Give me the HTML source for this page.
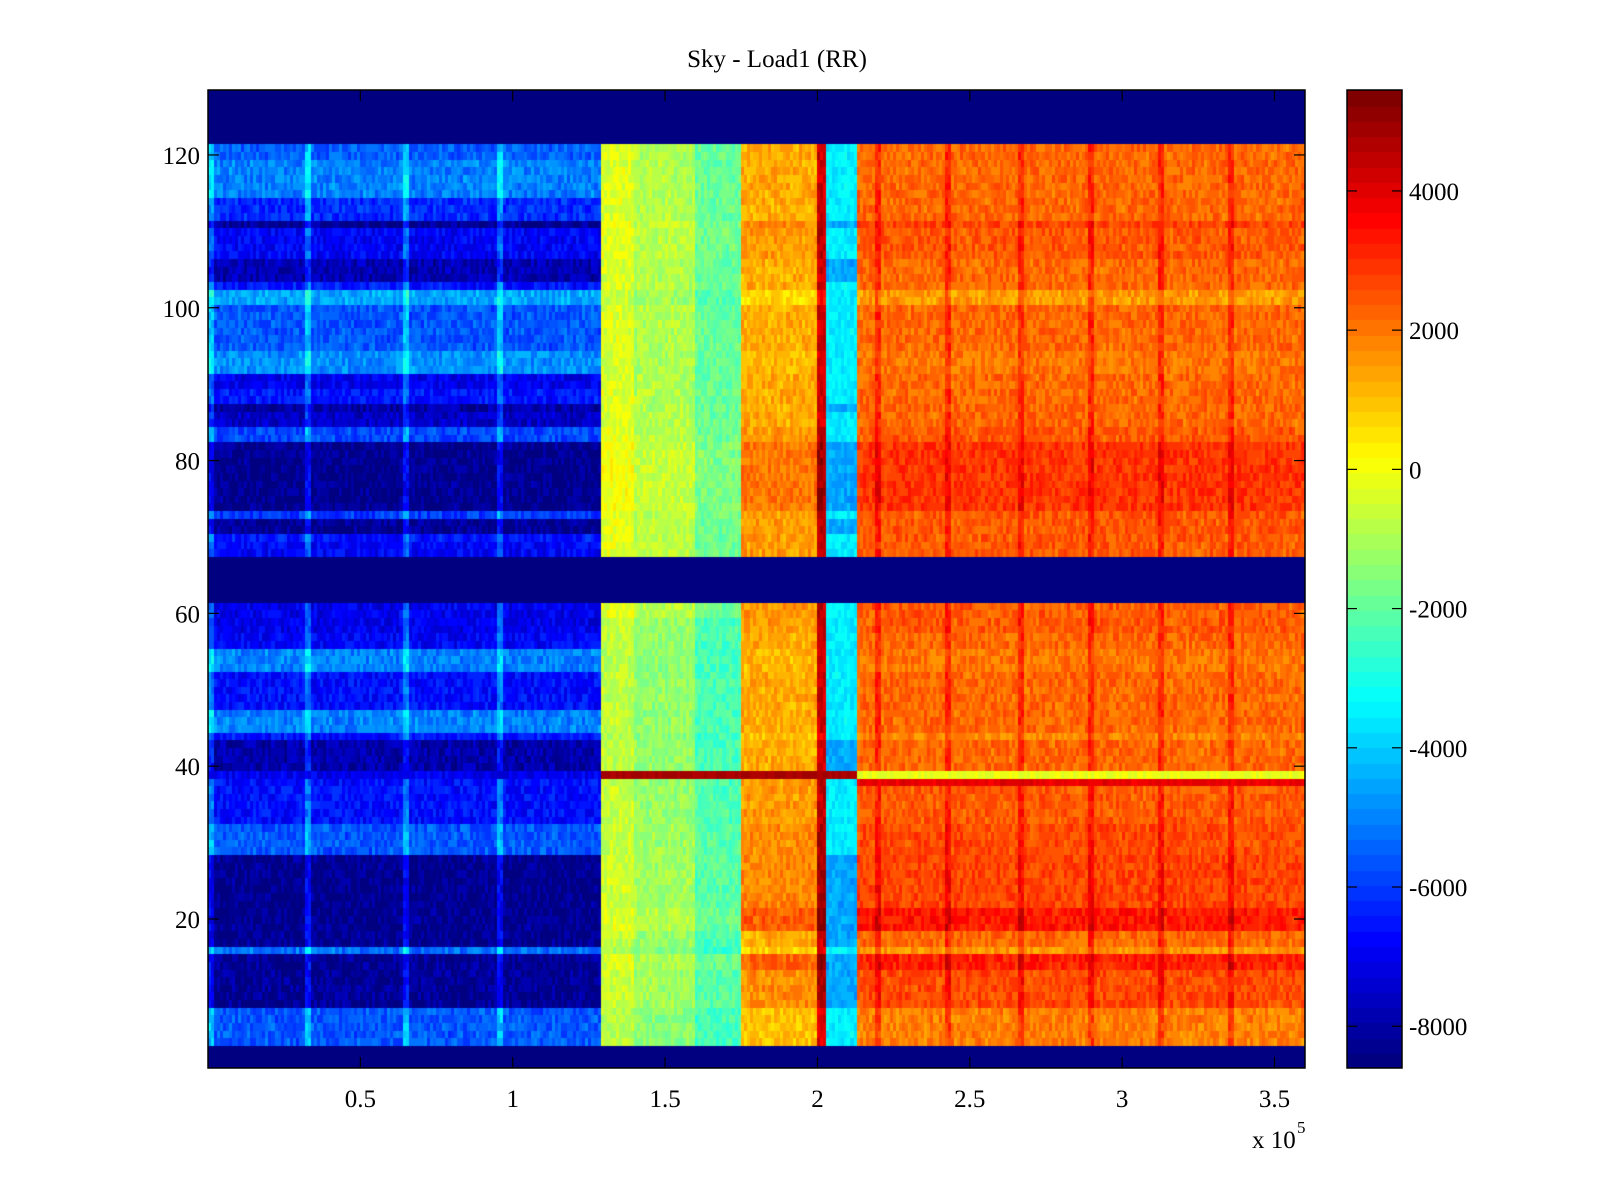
<!DOCTYPE html>
<html><head><meta charset="utf-8">
<style>
html,body{margin:0;padding:0;background:#fff;}
#wrap{position:relative;width:1600px;height:1200px;overflow:hidden;font-family:"Liberation Serif",serif;}
canvas{position:absolute;}
svg{position:absolute;left:0;top:0;}
</style></head>
<body>
<div id="wrap">
<canvas id="heat" width="1097" height="978" style="left:208px;top:90px"></canvas>
<canvas id="cbar" width="55" height="978" style="left:1347px;top:90px"></canvas>
<svg id="ov" width="1600" height="1200"></svg>
</div>
<script>
// ---- data ----
const xTicks = [0.5, 1, 1.5, 2, 2.5, 3, 3.5];
const xTickLabels = ["0.5", "1", "1.5", "2", "2.5", "3", "3.5"];
const yTicks = [20, 40, 60, 80, 100, 120];
const cTicks = [-8000, -6000, -4000, -2000, 0, 2000, 4000];
// column bands: [x from, x to (1e5), base value]
const bandFrom = [0, 1.29, 1.4, 1.6, 1.75, 2.0, 2.03, 2.13];
const bandTo   = [1.29, 1.4, 1.6, 1.75, 2.0, 2.03, 2.13, 3.6];
const bandBase = [0, -300, -900, -1900, 1300, 4300, -3500, 2200];
// row segments: [row from, row to, left-region value, right-region offset]
const segFrom  = [4, 9, 14, 16, 17, 19, 22, 29, 33, 39, 40, 44, 45, 48, 53, 56, 58, 68, 70, 71, 73, 74, 83, 85, 87, 88, 90, 92, 95, 101, 103, 104, 107, 111, 112, 115, 120];
const segTo    = [8, 13, 15, 16, 18, 21, 28, 32, 38, 39, 43, 44, 47, 52, 55, 57, 61, 69, 70, 72, 73, 82, 84, 86, 87, 89, 91, 94, 100, 102, 103, 106, 110, 111, 114, 119, 121];
const segLeft  = [-5600, -8200, -8200, -5200, -8300, -8300, -8300, -5600, -6600, -7000, -7900, -6500, -5000, -6600, -5000, -6800, -7000, -6800, -6500, -8200, -6000, -8300, -5800, -7500, -8000, -6500, -7000, -4800, -5600, -4500, -6500, -7800, -6800, -8200, -6200, -5000, -5500];
const segRight = [-300, 400, 1000, -600, 0, 1100, 500, 400, 200, 0, 0, -400, 0, 0, -200, 0, 200, 200, 200, 200, 200, 700, 200, 0, 0, 0, 0, -200, 0, -700, 0, 0, 200, 500, 0, 0, 0];
const lightLines = [0.01, 0.33, 0.65, 0.96];           // bright verticals in blue region
const darkLines = [2.0, 2.2, 2.43, 2.67, 2.9, 3.13, 3.36]; // dark verticals in red region
const specialRow = 39, specialMid = 4800, specialRight = -200;

// ---- scales ----
const PX0 = 208, PX1 = 1305, PY0 = 90, PY1 = 1068;
const XMIN = 0, XMAX = 3.6, YMIN = 0.5, YMAX = 128.5;
const CMIN = -8600, CMAX = 5450;
const sx = x => PX0 + (x - XMIN) / (XMAX - XMIN) * (PX1 - PX0);
const sy = y => PY1 - (y - YMIN) / (YMAX - YMIN) * (PY1 - PY0);
const sc = v => PY1 - (v - CMIN) / (CMAX - CMIN) * (PY1 - PY0);

function jet(v) {
  let t = (v - CMIN) / (CMAX - CMIN); t = Math.max(0, Math.min(1, t));
  t = Math.floor(t * 63.999) / 63;
  const c = a => Math.round(255 * Math.max(0, Math.min(1, 1.5 - Math.abs(a))));
  return `rgb(${c(4*t-3)},${c(4*t-2)},${c(4*t-1)})`;
}
function hash(a, b) { let h = (a * 374761393 + b * 668265263) | 0; h = (h ^ (h >>> 13)) * 1274126177 | 0; return ((h ^ (h >>> 16)) >>> 0) / 4294967296; }
function segOf(r) { for (let i = 0; i < segFrom.length; i++) if (r >= segFrom[i] && r <= segTo[i]) return i; return -1; }
function bandOf(x) { for (let i = 0; i < bandFrom.length; i++) if (x >= bandFrom[i] && x < bandTo[i]) return i; return bandFrom.length - 1; }

const NCOL = 360, dx = (XMAX - XMIN) / NCOL;
const hc = document.getElementById('heat').getContext('2d');
for (let r = 1; r <= 128; r++) {
  const si = segOf(r);
  const y0 = sy(r + 0.5) - PY0, y1 = sy(r - 0.5) - PY0;
  for (let c = 0; c < NCOL; c++) {
    const x = XMIN + (c + 0.5) * dx;
    let v;
    if (si < 0) v = CMIN;
    else {
      const b = bandOf(x);
      const n = (hash(r, c) - 0.5) * 1000;
      if (b === 0) {
        v = segLeft[si] + n * 1.2;
        for (const L of lightLines) if (Math.abs(x - L) < dx * 0.6) v += 1500;
      } else if (b >= 1 && b <= 3) {
        v = bandBase[b] + segRight[si] * 0.4 + n;
        if (r < 60) v -= 400;
      } else if (b === 6) {
        v = bandBase[b] + n * 0.8 + (segLeft[si] < -7500 ? -1000 : 0);
      } else {
        v = bandBase[b] + segRight[si] + n;
        if (b === 7) for (const L of darkLines) if (Math.abs(x - L) < dx * 0.6) v += 900;
      }
      if (r === specialRow) v = x < 1.29 ? segLeft[si] + n : (x < 2.13 ? specialMid + n * 0.3 : specialRight + n * 0.5);
      if (r === specialRow - 1 && x >= 2.13) v = 3900 + n * 0.5;
    }
    hc.fillStyle = jet(v);
    const xa = sx(x - dx / 2) - PX0, xb = sx(x + dx / 2) - PX0;
    hc.fillRect(Math.floor(xa), Math.floor(y0), Math.ceil(xb - xa) + 1, Math.ceil(y1 - y0) + 1);
  }
}
// colorbar
const cc = document.getElementById('cbar').getContext('2d');
for (let i = 0; i < 64; i++) {
  const v0 = CMIN + i * (CMAX - CMIN) / 64, v1 = CMIN + (i + 1) * (CMAX - CMIN) / 64;
  cc.fillStyle = jet((v0 + v1) / 2);
  cc.fillRect(0, Math.floor(sc(v1) - PY0), 55, Math.ceil(sc(v0) - sc(v1)) + 1);
}

// ---- overlay ----
const NS = 'http://www.w3.org/2000/svg';
const ov = document.getElementById('ov');
function mk(tag, attrs, txt) { const e = document.createElementNS(NS, tag); for (const k in attrs) e.setAttribute(k, attrs[k]); if (txt !== undefined) e.textContent = txt; ov.appendChild(e); return e; }
let e;
e = mk('rect', {x: PX0, y: PY0, width: PX1 - PX0, height: PY1 - PY0, fill: 'none', stroke: '#000', 'stroke-width': 1.5});


e = mk('rect', {x: 1347, y: PY0, width: 55, height: PY1 - PY0, fill: 'none', stroke: '#000', 'stroke-width': 1.5});


const fs = {'font-family': '"Liberation Serif", serif', 'font-size': 25, fill: '#000'};
xTicks.forEach((t, i) => {
  const x = sx(t);
  mk('line', {x1: x, x2: x, y1: PY1, y2: PY1 - 11, stroke: '#000', 'stroke-width': 1.2});
  mk('line', {x1: x, x2: x, y1: PY0, y2: PY0 + 11, stroke: '#000', 'stroke-width': 1.2});
  e = mk('text', Object.assign({x: x, y: PY1 + 39, 'text-anchor': 'middle'}, fs), xTickLabels[i]);
  
  
});
yTicks.forEach(t => {
  const y = sy(t);
  mk('line', {x1: PX0, x2: PX0 + 11, y1: y, y2: y, stroke: '#000', 'stroke-width': 1.2});
  mk('line', {x1: PX1, x2: PX1 - 11, y1: y, y2: y, stroke: '#000', 'stroke-width': 1.2});
  e = mk('text', Object.assign({x: PX0 - 8, y: y + 9, 'text-anchor': 'end'}, fs), String(t));
  
  
});
cTicks.forEach(t => {
  const y = sc(t);
  mk('line', {x1: 1347, x2: 1357, y1: y, y2: y, stroke: '#000', 'stroke-width': 1.2});
  mk('line', {x1: 1402, x2: 1392, y1: y, y2: y, stroke: '#000', 'stroke-width': 1.2});
  e = mk('text', Object.assign({x: 1409, y: y + 9, 'text-anchor': 'start'}, fs), String(t));
  
  
});
e = mk('text', Object.assign({x: 777, y: 67, 'text-anchor': 'middle'}, fs), 'Sky - Load1 (RR)');


e = mk('text', Object.assign({x: 1252, y: 1148}, fs), 'x 10');


e = mk('text', Object.assign({x: 1297, y: 1133}, fs, {'font-size': 17}), '5');


</script>
</body></html>
